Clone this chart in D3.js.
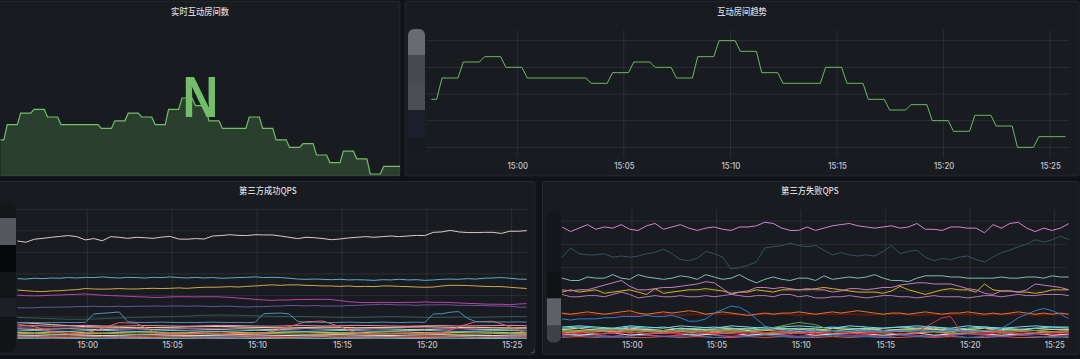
<!DOCTYPE html>
<html><head><meta charset="utf-8">
<script src="https://cdn.jsdelivr.net/npm/d3@7"></script>
<style>
html,body{margin:0;padding:0;background:#111217;overflow:hidden}
svg{display:block}
</style></head><body>
<svg id="c" width="1080" height="359"></svg>
<script>
// ================= DATA =================
const timeTicks = ["15:00","15:05","15:10","15:15","15:20","15:25"];

// 互动房间 (15 s samples)
const roomStart = "14:55:58";
const roomStepSec = 15;
const roomTicks = [40,45,50,55,60];
const roomCounts = [49,49,
53,53,53,53,56,56,56,56,57,57,57,57,55,55,55,55,
53,53,53,53,53,53,53,53,53,53,53,53,
52,52,52,52,54,54,54,54,56,56,56,56,55,55,55,55,53,53,53,53,57,57,57,57,60,60,60,60,58,58,58,58,54,54,54,54,
52,52,52,52,52,52,52,52,
55,55,55,55,52,52,52,52,49,49,49,49,47,47,47,47,48,48,48,48,45,45,45,45,43,43,43,43,46,46,46,46,44,44,44,44,40,40,40,40,
42,42,42,42,42,42];
const roomStatText = "N";

// 第三方成功QPS : 30 s series and 60 s series
const succStart = "14:55:53";
const succTicks = [0,100,200,300,400,500,600];
const succWhite = [453,447,461,465,470,474,478,473,458,464,454,473,470,465,470,468,465,471,474,462,461,464,462,476,478,482,479,478,482,481,481,476,470,464,470,468,464,459,462,467,470,473,470,473,476,473,476,479,478,493,495,502,495,492,492,493,493,488,498,498,501];
const succTeal = [278,276,280,278,281,280,283,281,284,283,286,283,281,284,283,281,284,283,286,283,281,284,281,283,280,281,283,284,286,283,284,283,280,276,275,276,275,273,275,272,273,272,270,273,272,275,272,273,270,272,275,276,275,278,276,280,281,283,280,276,275];
const succTan = [225,222,219,218,221,222,225,227,232,230,229,230,232,230,230,232,233,232,233,235,233,236,238,238,239,241,239,242,244,247,249,247,249,249,247,246,244,244,242,244,241,242,241,244,244,242,241,239,238,239,244,247,247,246,244,242,241,241,238,235,232];
const succMagenta = [201,199,198,199,201,202,204,205,207,204,201,199,198,196,194,193,191,191,193,194,194,193,194,194,193,191,188,185,182,179,177,179,179,181,181,182,182,181,176,171,168,167,167,168,167,167,168,168,170,168,168,167,165,163,162,160,159,159,157,160,162];
const succPurple = [143,142,143,145,145,146,146,148,148,150,148,148,150,148,150,150,151,150,151,151,150,151,150,148,150,150,148,146,148,148,150,151,153,153,151,153,151,151,151,153,154,156,157,159,157,156,156,154,156,156,157,156,154,154,153,153,151,151,150,146,145];
const succSteel = [74,75,74,73,74,75,74,74,75,114,117,120,123,78,75,74,75,76,75,74,75,74,75,76,75,74,75,74,75,115,117,118,114,80,75,76,75,74,75,76,75,74,75,76,75,74,75,76,75,114,115,122,125,94,78,77,76,77,76,77,76];
// 60 s series
const succDarkTeal = [98,95,92,89,89,92,95,98,100,102,104,108,109,108,105,103,102,102,100,98,98,100,102,100,98,98,100,98,100,102,102];
const succSalmon = [67,55,32,21,24,47,74,71,32,21,21,24,21,24,21,32,55,78,81,55,24,21,21,24,21,24,55,78,80,55,24];
const succPink = [58,60,57,59,61,58,57,59,60,58,57,59,61,60,58,57,59,60,58,59,61,60,58,57,59,60,58,59,60,61,59];
const succTanLow = [74,70,65,60,55,53,52,50,51,52,54,55,56,54,52,50,49,51,53,52,50,51,52,54,55,53,51,52,50,49,50];
const succLightGreen = [45,42,44,46,43,41,44,45,42,44,46,43,42,45,44,41,43,46,44,42,43,45,44,42,41,44,46,43,42,44,45];
const succCyan = [35,37,34,33,36,38,35,33,34,37,36,34,33,35,38,36,34,33,35,37,36,34,35,37,38,35,33,34,36,37,35];
const succYellow = [28,26,29,31,27,25,28,30,29,26,27,30,31,28,26,27,29,30,28,27,26,29,31,30,27,26,28,30,29,27,28];
const succGreen = [22,24,21,20,23,25,22,20,21,24,23,21,20,22,25,23,21,20,22,24,23,21,22,24,25,22,20,21,23,24,22];
const succWhiteLow = [16,15,17,18,16,14,15,17,18,16,15,14,16,18,17,15,14,16,17,18,16,15,14,16,17,18,16,15,14,16,17];
const succOrange = [8,9,7,6,8,10,9,7,6,8,9,11,12,10,8,7,6,8,9,7,8,10,9,7,6,8,9,7,8,9,8];
const succBlue = [4,3,4,5,3,2,4,5,4,3,2,4,5,3,4,5,4,3,2,4,5,4,3,4,5,3,2,4,5,4,3];
const succLightBlue = [1,1,2,1,0,1,2,1,1,0,1,2,1,1,0,1,2,1,0,1,1,2,1,0,1,2,1,1,0,1,1];
const succPurpleLow = [50,48,47,49,51,48,46,48,50,49,47,46,48,50,51,49,47,48,50,49,47,48,50,51,49,47,46,48,49,50,48];
const succRed = [12,13,11,12,14,13,11,10,12,13,14,12,11,13,12,10,11,13,14,12,11,12,13,11,10,12,13,14,12,11,12];

// 第三方失败QPS : 30 s series and 60 s series
const failStart = "14:55:52";
const failTicks = [0,20,40,60,80,100];
const failPink = [95,91,94,97,93,95,94,97,93,92,96,98,93,95,97,94,92,94,95,93,92,95,95,96,99,98,94,92,92,95,92,94,96,97,98,96,95,94,95,96,94,95,98,93,93,92,95,95,94,94,90,97,94,98,99,94,91,94,92,94,98];
const failDarkTeal = [69,77,72,71,71,72,69,70,69,70,72,73,76,72,67,66,68,74,72,69,59,60,62,65,77,78,79,81,79,78,79,75,71,73,71,70,71,70,74,79,72,74,75,69,66,68,67,69,70,67,65,69,73,75,78,80,84,82,84,87,84];
const failLightTeal = [51,49,49,52,51,51,54,51,50,54,52,51,50,51,53,52,50,54,52,50,51,54,50,47,50,52,50,49,51,51,49,53,50,51,52,51,52,54,51,49,49,48,51,53,53,53,52,52,51,51,51,51,52,51,51,52,52,51,53,52,52];
const failLilacHi = [41,40,41,41,43,45,47,49,44,41,41,42,43,43,44,45,46,48,47,42,37,39,40,43,43,42,43,42,41,42,41,41,39,40,42,42,41,42,43,43,45,46,47,47,46,46,46,44,42,41,38,37,40,40,39,41,46,45,44,43,41];
const failLilacLo = [37,35,35,36,36,35,37,39,37,34,35,36,35,35,36,35,35,36,35,36,37,36,35,36,36,35,37,37,35,36,34,34,35,35,36,35,34,35,36,36,35,35,34,35,36,35,35,35,34,35,36,36,35,36,37,36,36,37,37,37,36];
const failYellow = [39,41,39,40,41,38,39,40,41,39,37,42,38,39,40,41,41,42,41,40,38,39,39,41,40,39,41,41,41,41,42,43,42,41,40,39,39,39,38,40,44,41,39,37,39,41,42,41,41,39,46,41,40,40,39,39,38,39,41,41,41];
const failOrange = [21,20,21,22,21,20,21,22,23,21,20,21,22,21,22,23,22,20,21,22,21,20,19,20,21,20,21,21,22,21,20,21,22,21,22,23,22,21,20,21,21,20,21,22,21,20,21,21,22,21,20,21,20,21,22,21,20,21,20,21,20];
const failBlue = [16,15,16,16,16,17,17,18,18,18,19,18,18,19,17,14,14,16,21,24,27,26,22,16,10,7,6,5,6,5,6,5,6,5,6,5,6,5,6,5,6,5,6,5,6,5,6,5,6,5,6,6,8,12,17,20,23,25,23,20,16];
const failRed = [4,3,4,5,4,3,4,4,5,4,3,4,4,5,4,3,4,4,3,4,5,4,3,4,4,5,4,3,4,4,3,4,5,4,4,3,4,4,5,4,3,4,5,9,13,17,18,7,4,3,4,4,5,4,3,4,4,3,4,5,4];
// 60 s series
const failDarkRed = [20,19,20,20,19,20,20,19,20,20,20,19,20,20,19,20,20,20,19,20,20,19,20,20,20,19,20,20,19,20,20];
const failGreen = [6,5,6,7,6,5,6,6,5,6,6,5,7,10,13,11,6,5,6,5,6,6,5,6,5,6,5,6,6,5,6];
const failCyan = [8,9,8,7,9,8,9,7,8,9,8,7,9,8,7,8,9,8,7,8,9,8,9,7,8,9,8,7,8,9,8];
const failAmber = [7,6,7,8,6,7,6,8,7,6,7,8,6,7,8,7,6,7,8,6,7,7,8,6,7,6,8,7,6,7,7];
const failRose = [6,5,6,5,7,6,5,6,7,5,6,5,6,7,5,6,6,5,7,6,5,6,7,5,6,5,6,7,6,5,6];
const failOrangeLow = [5,4,5,6,4,5,4,5,6,4,5,6,4,5,5,4,6,5,4,5,6,4,5,4,6,5,4,5,6,4,5];
const failGreenLow = [4,5,3,4,5,3,4,5,4,3,4,5,3,4,4,5,3,4,5,4,3,4,5,3,4,5,4,3,4,5,4];
const failWhite = [3,2,3,4,2,3,4,3,2,3,4,2,3,3,4,2,3,4,3,2,3,4,2,3,4,3,2,3,4,2,3];
const failPurple = [2,3,2,1,3,2,1,2,3,2,1,2,3,2,1,2,3,2,2,1,3,2,1,2,3,2,1,2,3,2,2];
const failBlueLow = [1,2,1,0,1,2,1,1,2,0,1,1,2,1,0,1,2,1,1,0,2,1,1,2,0,1,1,2,1,0,1];
const failRedLow = [0,1,0,1,0,0,1,0,1,0,0,1,0,1,0,0,1,0,1,0,0,1,0,1,0,0,1,0,0,1,0];
const failSky = [9,10,9,8,10,9,8,10,9,8,10,9,8,9,10,9,8,10,9,8,9,10,9,8,10,9,8,9,10,9,9];
const failBrick = [3,4,3,4,5,3,4,3,5,4,3,4,3,5,4,3,4,5,3,4,3,4,5,3,4,3,4,5,4,3,4];
const failMint = [7,8,6,7,8,7,6,8,7,7,8,6,7,8,7,6,8,7,8,6,7,8,7,6,7,8,7,6,8,7,7];

// ================= RENDER =================
const parseT = d3.timeParse("%H:%M:%S");
const parseHM = d3.timeParse("%H:%M");
const tickDates = timeTicks.map(parseHM);
const svg = d3.select("#c");
const SQ = 0.87; // horizontal squash of the original screenshot

function series(values, startStr, stepSec) {
  const t0 = parseT(startStr).getTime();
  return values.map((v, i) => ({t: new Date(t0 + i * stepSec * 1000), v}));
}

const defs = svg.append("defs");
function clip(id, x, y, w, h) {
  defs.append("clipPath").attr("id", id).append("rect")
    .attr("x", x).attr("y", y).attr("width", w).attr("height", h);
  return "url(#" + id + ")";
}

function panel(x, y, w, h) {
  svg.append("rect").attr("x", x).attr("y", y).attr("width", w).attr("height", h)
    .attr("rx", 2).attr("fill", "#181b1f").attr("stroke", "rgba(204,204,220,0.09)").attr("stroke-width", 1);
}
function title(cx, by, txt) {
  svg.append("text").attr("transform", `translate(${cx},${by}) scale(${SQ},1)`)
    .attr("text-anchor", "middle")
    .attr("font-family", "'Noto Sans CJK SC','Noto Sans',sans-serif")
    .attr("font-size", 9.5).attr("font-weight", 500).attr("fill", "#d6d7dc").text(txt);
}
function blur(blocks, x, w, rx) {
  const g = svg.append("g");
  const y0 = blocks[0][0], y1 = blocks[blocks.length - 1][1];
  const id = "bl" + Math.round(x) + "_" + Math.round(y0);
  defs.append("clipPath").attr("id", id).append("rect")
    .attr("x", x).attr("y", y0).attr("width", w).attr("height", y1 - y0).attr("rx", rx);
  g.attr("clip-path", `url(#${id})`);
  blocks.forEach(b => g.append("rect").attr("x", x).attr("y", b[0]).attr("width", w)
    .attr("height", b[1] - b[0]).attr("fill", b[2]));
}
function grid(g, xs, ys, xTicks, yTicks, x0, x1, y0, y1) {
  const col = "rgba(204,204,220,0.11)";
  g.selectAll(null).data(yTicks).join("line")
    .attr("x1", x0).attr("x2", x1).attr("y1", d => ys(d)).attr("y2", d => ys(d))
    .attr("stroke", col).attr("stroke-width", 1);
  g.selectAll(null).data(xTicks).join("line")
    .attr("x1", d => xs(d)).attr("x2", d => xs(d)).attr("y1", y0).attr("y2", y1)
    .attr("stroke", col).attr("stroke-width", 1);
}
function xAxis(xs, baseY) {
  const g = svg.append("g").attr("transform", `translate(0,${baseY})`)
    .call(d3.axisBottom(xs).tickValues(tickDates).tickFormat(d3.timeFormat("%H:%M")).tickSize(0));
  g.select(".domain").remove();
  g.selectAll("text").attr("y", 0).attr("dy", 0)
    .attr("transform", `scale(${SQ},1)`)
    .attr("font-family", "Inter, 'Noto Sans', sans-serif")
    .attr("font-size", 9).attr("font-weight", 500).attr("fill", "#c4c5cc");
}
function drawLines(g, list, xs, ys) {
  const line = d3.line().x(d => xs(d.t)).y(d => ys(d.v));
  list.forEach(s => g.append("path").datum(s.data).attr("d", line)
    .attr("fill", "none").attr("stroke", s.color).attr("stroke-width", s.w || 1)
    .attr("stroke-linejoin", "round"));
}

// ---- panels ----
panel(-5, 1, 405, 175);
panel(405, 1, 674, 175);
panel(-5, 181.5, 540, 173);
panel(542.5, 181.5, 536.5, 173);

// ---- Panel 1: stat with sparkline ----
{
  const data = series(roomCounts, roomStart, roomStepSec);
  const xs = d3.scaleTime().domain(d3.extent(data, d => d.t)).range([0.5, 400.5]);
  const ys = d3.scaleLinear().domain([40, 60]).range([174, 98]);
  const g = svg.append("g").attr("clip-path", clip("cp1", -5, 1, 405, 175));
  g.append("path").datum(data)
    .attr("d", d3.area().x(d => xs(d.t)).y0(177).y1(d => ys(d.v)))
    .attr("fill", "rgba(115,191,105,0.22)");
  g.append("path").datum(data)
    .attr("d", d3.line().x(d => xs(d.t)).y(d => ys(d.v)))
    .attr("fill", "none").attr("stroke", "#73bf69").attr("stroke-width", 1.2);
  svg.append("text").attr("transform", `translate(200.5,117) scale(${SQ},1)`)
    .attr("text-anchor", "middle").attr("font-family", "'Liberation Sans', Arial, sans-serif")
    .attr("font-weight", 700).attr("font-size", 57).attr("fill", "#73bf69").text(roomStatText);
  title(200, 15, "实时互动房间数");
}

// ---- Panel 2: trend ----
{
  const data = series(roomCounts, roomStart, roomStepSec);
  const xs = d3.scaleTime().domain([parseT("14:55:43"), parseT("15:25:53")]).range([426, 1069]);
  const ys = d3.scaleLinear().domain([38, 62]).range([158, 30]);
  grid(svg.append("g"), xs, ys, tickDates, roomTicks, 426, 1069, 30, 158);
  const g = svg.append("g").attr("clip-path", clip("cp2", 426, 28, 643, 132));
  drawLines(g, [{data, color: "#6fb865"}], xs, ys);
  xAxis(xs, 169);
  blur([[29, 55, "#686b71"], [55, 83, "#46494f"], [83, 110, "#4a4d53"], [110, 137, "#1c202a"], [137, 155, "#161a23"]], 408, 17, 6);
  title(742, 15, "互动房间趋势");
}

// ---- Panel 3: success QPS ----
{
  const xs = d3.scaleTime().domain([parseT("14:55:48"), parseT("15:25:54")]).range([16, 527]);
  const ys = d3.scaleLinear().domain([0, 600]).range([338.5, 209.3]);
  grid(svg.append("g"), xs, ys, tickDates, succTicks, 16, 527, 209.3, 338.5);
  const g = svg.append("g").attr("clip-path", clip("cp3", 16, 205, 511, 136));
  const s30 = (v, c) => ({data: series(v, succStart, 30), color: c});
  const s60 = (v, c) => ({data: series(v, succStart, 60), color: c});
  drawLines(g, [
    s60(succLightBlue, "#82b5d8"), s60(succBlue, "#5195ce"), s60(succOrange, "#ef843c"),
    s60(succRed, "#e24d42"), s60(succWhiteLow, "#e4e4e4"), s60(succGreen, "#7eb26d"),
    s60(succYellow, "#eab839"), s60(succCyan, "#6ed0e0"), s60(succLightGreen, "#b7dbab"),
    s60(succPurpleLow, "#ba43a9"), s60(succTanLow, "#f4d598"), s60(succPink, "#e88fb5"),
    s60(succSalmon, "#ea6460"), s60(succDarkTeal, "#2f575e"),
    s30(succSteel, "#4f93b8"), s30(succPurple, "#6a5499"), s30(succMagenta, "#ba43a9"),
    s30(succTan, "#d1a948"), s30(succTeal, "#5aaec6"), s30(succWhite, "#dccbc6")
  ], xs, ys);
  xAxis(xs, 347.7);
  blur([[201, 218, "#15171b"], [218, 245, "#55585e"], [245, 272, "#05070b"], [272, 298, "#131519"], [298, 317, "#1d1f24"], [317, 352, "#111316"]], -8, 24, 7);
  title(268, 194, "第三方成功QPS");
  svg.append("path").attr("d", "M534,349.5 L534,352.5 L531,352.5").attr("fill", "none")
    .attr("stroke", "rgba(204,204,220,0.35)").attr("stroke-width", 0.8);
}

// ---- Panel 4: failure QPS ----
{
  const xs = d3.scaleTime().domain([parseT("14:55:47"), parseT("15:25:46")]).range([560.7, 1067.3]);
  const ys = d3.scaleLinear().domain([0, 110]).range([337.5, 209.5]);
  grid(svg.append("g"), xs, ys, tickDates, failTicks, 560.7, 1067.3, 209.5, 337.5);
  const g = svg.append("g").attr("clip-path", clip("cp4", 560.7, 205, 508, 135));
  const s30 = (v, c) => ({data: series(v, failStart, 30), color: c});
  const s60 = (v, c) => ({data: series(v, failStart, 60), color: c});
  drawLines(g, [
    s60(failRedLow, "#e24d42"), s60(failBlueLow, "#1f78c1"), s60(failPurple, "#ba43a9"),
    s60(failWhite, "#e0e0e0"), s60(failBrick, "#bf1b00"), s60(failGreenLow, "#7eb26d"),
    s60(failOrangeLow, "#ef843c"), s60(failRose, "#f29191"), s60(failAmber, "#eab839"),
    s60(failMint, "#b7dbab"), s60(failCyan, "#6ed0e0"), s60(failSky, "#70dbed"),
    s60(failGreen, "#629e51"), s30(failRed, "#d9334a"),
    s60(failDarkRed, "#890f02"), s30(failOrange, "#e0752d"), s30(failBlue, "#2f7fd0"),
    s30(failLilacLo, "#b877b8"), s30(failYellow, "#d4b21a"), s30(failLilacHi, "#c97bc6"),
    s30(failLightTeal, "#7fbcbc"), s30(failDarkTeal, "#2f575e"), s30(failPink, "#d683ce")
  ], xs, ys);
  xAxis(xs, 347.7);
  blur([[210.7, 271.7, "#15171c"], [271.7, 298.3, "#0f1115"], [298.3, 325.7, "#5d6065"], [325.7, 342.7, "#3e4146"]], 546.7, 14.3, 6);
  title(810, 194, "第三方失败QPS");
}
</script>
</body></html>
